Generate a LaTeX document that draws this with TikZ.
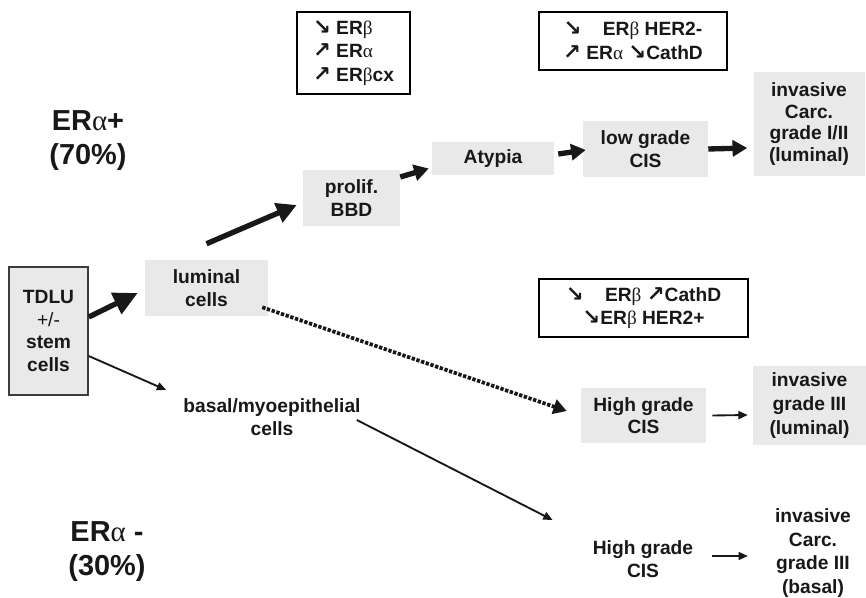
\documentclass[tikz,border=0pt]{standalone}
\usepackage{fontspec}
\setmainfont{Liberation Sans}
\newfontfamily\grfont{Liberation Serif}
\newfontfamily\arrfont{DejaVu Sans}
\usepackage{xcolor}
\usetikzlibrary{arrows.meta,shapes,calc}

\definecolor{cellgray}{RGB}{232,233,232}
\definecolor{inkgray}{RGB}{24,24,24}
\definecolor{tdluborder}{RGB}{60,60,60}

\newcommand{\pxu}{0.75pt}
\newcommand{\galpha}{{\grfont\mdseries α}}
\newcommand{\gbeta}{{\grfont\mdseries β}}
\newcommand{\dnarr}{\smash{\arrfont\bfseries\fontsize{16}{16}\selectfont ↘}}
\newcommand{\uparr}{\smash{\arrfont\bfseries\fontsize{16}{16}\selectfont ↗}}

\begin{document}
\begin{tikzpicture}[x=0.75pt,y=-0.75pt]
  \tikzset{txt/.style = {align=center, inner sep=0pt, text=inkgray, font=\bfseries\fontsize{14.4}{16.9}\selectfont}}
  \tikzset{cell/.style = {txt, fill=cellgray}}
  \tikzset{note/.style = {txt, draw=black, line width=1.1pt, fill=white, font=\bfseries\fontsize{14.4}{17.6}\selectfont}}
  \tikzset{group/.style = {txt, font=\bfseries\fontsize{21.7}{25.5}\selectfont}}
  \tikzset{fat/.style = {-{Triangle[length=15pt,width=15pt]}, line width=4pt, inkgray}}
  \tikzset{stub/.style = {-{Triangle[length=11pt,width=12pt]}, line width=4pt, inkgray}}
  \tikzset{slim/.style = {-{Triangle[length=7pt,width=6pt]}, line width=1.4pt, inkgray}}
  \tikzset{dotline/.style = {-{Triangle[length=10pt,width=11pt]}, line width=2.8pt, dash pattern=on 2.5pt off 1.2pt, inkgray}}

  \useasboundingbox (0,0) rectangle (866,598);

  % groups
  \node[group] (erpos) at (88,141) {ER\galpha+\\(70\%)};
  \node[group] (erneg) at (107,552) {ER\galpha{} -\\(30\%)};

  % cells
  \node[cell, draw=tdluborder, line width=1.1pt, minimum width=79*\pxu, minimum height=128*\pxu] (tdlu) at (48.5,331) {TDLU\\{\mdseries +/-}\\stem\\cells};
  \node[cell, minimum width=123*\pxu, minimum height=56*\pxu] (luminal) at (206.5,288) {luminal\\cells};
  \node[txt] (basal) at (272,417) {basal/myoepithelial\\cells};
  \node[cell, minimum width=97*\pxu, minimum height=56*\pxu] (bbd) at (351.5,198) {prolif.\\BBD};
  \node[cell, minimum width=122*\pxu, minimum height=33*\pxu] (atypia) at (493,158.5) {Atypia};
  \node[cell, minimum width=125*\pxu, minimum height=56*\pxu] (lowcis) at (645.5,149) {low grade\\CIS};
  \node[cell, minimum width=111*\pxu, minimum height=104*\pxu, font=\bfseries\fontsize{14.4}{16.3}\selectfont] (invlum) at (809,124) {invasive\\Carc.\\grade I/II\\(luminal)};
  \node[cell, minimum width=125*\pxu, minimum height=55*\pxu] (hgcis) at (643.5,415.5) {High grade\\CIS};
  \node[cell, minimum width=113*\pxu, minimum height=79*\pxu, font=\bfseries\fontsize{14.4}{18}\selectfont] (invlumiii) at (809.5,405.5) {invasive\\grade III\\(luminal)};
  \node[txt] (hgcisb) at (643,559) {High grade\\CIS};
  \node[txt, font=\bfseries\fontsize{14.4}{17.6}\selectfont] (invbas) at (813,553) {invasive\\Carc.\\grade III\\(basal)};

  % markers
  \node[note, align=left, minimum width=113*\pxu, minimum height=82*\pxu] (noteA) at (353.5,53) {\dnarr\ ER\gbeta\\\uparr\ ER\galpha\\\uparr\ ER\gbeta cx};
  \node[note, minimum width=188*\pxu, minimum height=58*\pxu] (noteB) at (633,41) {\dnarr\hspace{16pt}ER\gbeta{} HER2-\\\uparr\ ER\galpha{} \dnarr CathD};
  \node[note, minimum width=209*\pxu, minimum height=58*\pxu] (noteC) at (643.5,308) {\dnarr\hspace{16pt}ER\gbeta{} \uparr CathD\\\dnarr ER\gbeta{} HER2+};

  % luminal path
  \draw[fat, -{Triangle[length=18pt,width=17pt]}] ([shift={(0,-14)}]tdlu.east) -- ([shift={(-7,5)}]luminal.west);
  \draw[fat] ([shift={(0,-16)}]luminal.north) -- ([shift={(-6,7)}]bbd.west);
  \draw[stub] ([shift={(0,-21)}]bbd.east) -- ([shift={(-3,10)}]atypia.west);
  \draw[stub] ([shift={(4,-4.5)}]atypia.east) -- ([shift={(3,1)}]lowcis.west);
  \draw[stub] (lowcis.east) -- ([shift={(-6,24)}]invlum.west);
  \draw[dotline] ([shift={(-6,-9)}]luminal.south east) -- ([shift={(-14,-4.5)}]hgcis.west);
  \draw[slim] ([shift={(6,0)}]hgcis.east) -- ([shift={(-5,9.5)}]invlumiii.west);

  % basal path
  \draw[slim] ([shift={(0,25)}]tdlu.east) -- ([shift={(-17,-27)}]basal.west);
  \draw[slim] ([shift={(-4,3)}]basal.east) -- ([shift={(-40,-39)}]hgcisb.west);
  \draw[slim] ([shift={(18.5,-3)}]hgcisb.east) -- ([shift={(-27,3)}]invbas.west);
\end{tikzpicture}
\end{document}
